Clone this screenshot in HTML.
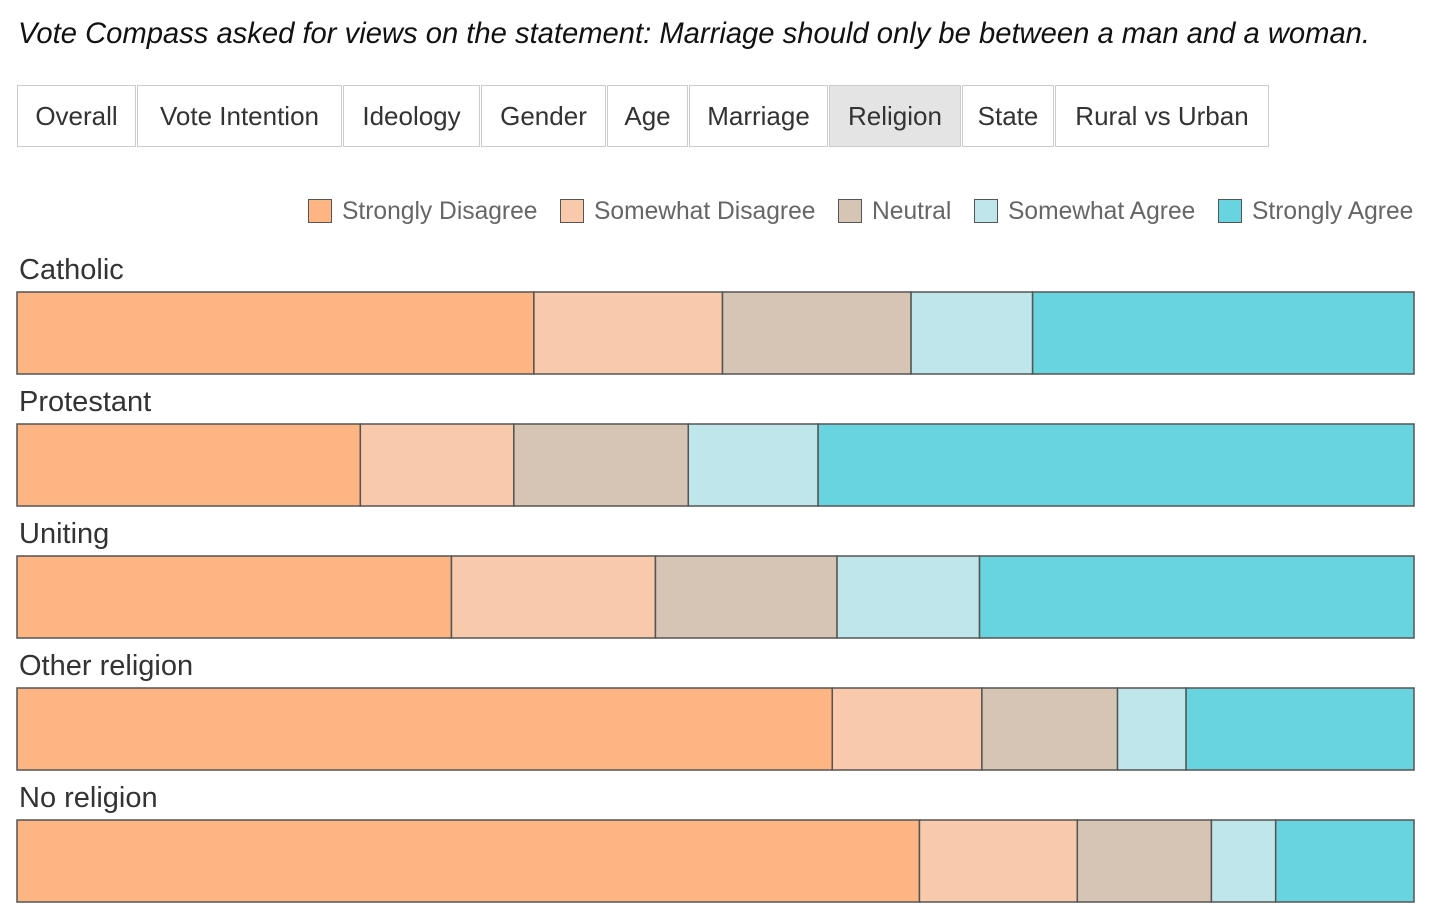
<!DOCTYPE html>
<html><head><meta charset="utf-8"><style>
body{margin:0;width:1438px;height:924px;background:#fff;font-family:"Liberation Sans",sans-serif;color:#333;position:relative;overflow:hidden}
#title{position:absolute;left:18px;top:18px;font-size:29.2px;font-style:italic;color:#111;white-space:nowrap}
.tab{position:absolute;top:85px;height:62px;border:1px solid #ccc;background:#fff;font-size:26px;line-height:60px;text-align:center;color:#333;box-sizing:border-box}
.tab.active{background:#e4e4e4}
.leg{position:absolute;top:198px;font-size:24.6px;color:#666;white-space:nowrap;line-height:28px}
.leg i{display:inline-block;width:22px;height:22px;border:1.5px solid #555;vertical-align:-4px;margin-right:10px}
</style></head><body>
<div id="title">Vote Compass asked for views on the statement: Marriage should only be between a man and a woman.</div>
<div id="tabs"></div>
<div id="legend"></div>
<svg id="chart" width="1438" height="924" style="position:absolute;left:0;top:0"></svg>
<script>
const tabLabels=["Overall","Vote Intention","Ideology","Gender","Age","Marriage","Religion","State","Rural vs Urban"];
const tabEdges=[17,137,343,481,607,689,829,962,1055,1270];
const categories=["Catholic","Protestant","Uniting","Other religion","No religion"];
const seriesNames=["Strongly Disagree","Somewhat Disagree","Neutral","Somewhat Agree","Strongly Agree"];
const stronglyDisagree=[37.0,24.6,31.1,58.3,64.6];
const somewhatDisagree=[13.5,11.0,14.6,10.7,11.3];
const neutral=[13.5,12.5,13.0,9.7,9.6];
const somewhatAgree=[8.7,9.3,10.2,4.9,4.6];
const stronglyAgree=[27.3,42.7,31.1,16.3,9.9];
const colors=["#fdb583","#f9c9ab","#d6c4b4","#bfe6ea","#68d4df"];
const series=[stronglyDisagree,somewhatDisagree,neutral,somewhatAgree,stronglyAgree];

const tabs=document.getElementById('tabs');
tabLabels.forEach((t,i)=>{
  const d=document.createElement('div');
  d.className='tab'+(t==='Religion'?' active':'');
  d.style.left=tabEdges[i]+'px';d.style.width=(tabEdges[i+1]-tabEdges[i]-1)+'px';
  d.textContent=t;
  
  
  tabs.appendChild(d);
});
const legX=[308,560,838,974,1218];
const legend=document.getElementById('legend');
seriesNames.forEach((n,i)=>{
  const d=document.createElement('div');d.className='leg';d.style.left=legX[i]+'px';
  d.innerHTML='<i style="background:'+colors[i]+'"></i>'+n;
  
  
  legend.appendChild(d);
});
const svg=document.getElementById('chart');const NS='http://www.w3.org/2000/svg';
const x0=17,x1=1414,barH=82,top0=292,step=132;
const xs=v=>x0+(x1-x0)*v/100;
categories.forEach((c,ci)=>{
  const y=top0+ci*step;
  const t=document.createElementNS(NS,'text');
  t.setAttribute('x',19);t.setAttribute('y',y-13);t.setAttribute('font-size',29);t.setAttribute('fill','#333');
  t.setAttribute('font-family','Liberation Sans, sans-serif');t.textContent=c;
  
  
  svg.appendChild(t);
  const tot=series.reduce((s,a)=>s+a[ci],0);let acc=0;
  series.forEach((a,si)=>{
    const r=document.createElementNS(NS,'rect');
    const xa=xs(acc/tot*100),xb=xs((acc+a[ci])/tot*100);acc+=a[ci];
    r.setAttribute('x',xa);r.setAttribute('y',y);r.setAttribute('width',xb-xa);r.setAttribute('height',barH);
    r.setAttribute('fill',colors[si]);r.setAttribute('stroke','#555');r.setAttribute('stroke-width',1.5);
    
    
    svg.appendChild(r);
  });
});
</script>
</body></html>
